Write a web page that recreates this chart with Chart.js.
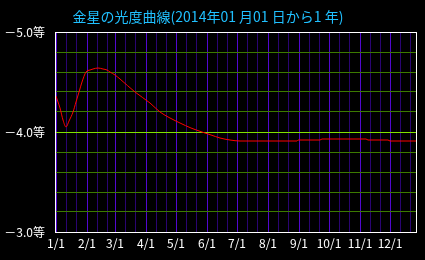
<!DOCTYPE html>
<html>
<head>
<meta charset="utf-8">
<script src="https://cdn.jsdelivr.net/npm/chart.js@4.4.1/dist/chart.umd.min.js"></script>
<style>
html,body{margin:0;padding:0;background:#000;}
#wrap{width:425px;height:260px;}
</style>
</head>
<body>
<div id="wrap"><canvas id="c" width="425" height="260"></canvas></div>
<script>
// ---- data ----
const titleText = '金星の光度曲線(2014年01 月01 日から1 年)';
const dayOfYear = [0, 2, 4, 7, 10, 13, 17, 20, 23, 26, 30, 34, 37, 42, 47, 51, 54, 59, 64, 79, 94, 104, 114, 124, 135, 146, 155, 164, 174, 184, 241, 242, 264, 266, 310, 312, 332, 334, 360];
const magnitude = [-4.36, -4.30, -4.24, -4.12, -4.05, -4.11, -4.20, -4.30, -4.40, -4.50, -4.60, -4.62, -4.63, -4.64, -4.63, -4.62, -4.60, -4.57, -4.53, -4.40, -4.29, -4.20, -4.14, -4.09, -4.04, -4.00, -3.97, -3.94, -3.92, -3.91, -3.91, -3.92, -3.92, -3.93, -3.93, -3.92, -3.92, -3.91, -3.91];
const monthStartDays = [0, 31, 59, 90, 120, 151, 181, 212, 243, 273, 304, 334];
const monthLabels = ['1/1', '2/1', '3/1', '4/1', '5/1', '6/1', '7/1', '8/1', '9/1', '10/1', '11/1', '12/1'];
const yLabelValues = [-5, -4, -3];
const yLabels = ['－5.0等', '－4.0等', '－3.0等'];

const points = dayOfYear.map((d, i) => ({x: d, y: magnitude[i]}));

// grid tick positions (1st, 11th, 21st of each month)
const xGridDays = [];
monthStartDays.forEach(d => { xGridDays.push(d, d + 10, d + 20); });

const bgPlugin = {
  id: 'bg',
  beforeDraw(chart) {
    const ctx = chart.ctx;
    ctx.save();
    ctx.fillStyle = '#000';
    ctx.fillRect(0, 0, chart.width, chart.height);
    ctx.restore();
  },
  afterDatasetsDraw(chart) {
    const a = chart.chartArea;
    const ctx = chart.ctx;
    ctx.save();
    ctx.strokeStyle = '#ffffff';
    ctx.lineWidth = 1;
    ctx.strokeRect(Math.round(a.left) - 0.5, Math.round(a.top) + 0.5, Math.round(a.right - a.left) + 1, Math.round(a.bottom - a.top));
    ctx.restore();
  }
};

new Chart(document.getElementById('c'), {
  type: 'line',
  data: {
    datasets: [{
      data: points,
      borderColor: '#ff0000',
      borderWidth: 1,
      pointRadius: 0,
      cubicInterpolationMode: 'monotone',
      fill: false
    }]
  },
  options: {
    responsive: false,
    animation: false,
    devicePixelRatio: 1,
    layout: {padding: {left: 0, right: 9, top: 0, bottom: 0}},
    plugins: {
      legend: {display: false},
      tooltip: {enabled: false},
      title: {
        display: true,
        text: titleText,
        color: '#20c0ff',
        font: {family: '"Noto Sans CJK JP"', size: 14, weight: 'normal'},
        padding: {top: 8, bottom: 7.2}
      }
    },
    scales: {
      x: {
        type: 'linear',
        min: 0,
        max: 360,
        border: {display: false},
        afterBuildTicks(scale) {
          scale.ticks = xGridDays.filter(d => d <= 360).map(v => ({value: v}));
        },
        afterFit(scale) { scale.height = 28; },
        grid: {
          drawTicks: false,
          color(ctx) {
            const v = ctx.tick && ctx.tick.value;
            return monthStartDays.includes(v) ? '#5208d0' : '#2a0472';
          }
        },
        ticks: {
          autoSkip: false,
          maxRotation: 0,
          color: '#ffffff',
          padding: 4,
          font: {family: '"Noto Sans CJK JP"', size: 12},
          callback(value) {
            const i = monthStartDays.indexOf(value);
            return i >= 0 ? monthLabels[i] : '';
          }
        }
      },
      y: {
        type: 'linear',
        reverse: true,
        min: -5,
        max: -3,
        border: {display: false},
        afterBuildTicks(scale) {
          const t = [];
          for (let i = 0; i <= 20; i++) t.push({value: Math.round((-5 + i * 0.1) * 10) / 10});
          scale.ticks = t;
        },
        afterFit(scale) { scale.width = 56; },
        grid: {
          drawTicks: false,
          color(ctx) {
            const v = ctx.tick && ctx.tick.value;
            return v === -4 ? '#80e000' : '#3c7a00';
          }
        },
        ticks: {
          color: '#ffffff',
          padding: 11,
          font: {family: '"Noto Sans CJK JP"', size: 12},
          callback(value) {
            const i = yLabelValues.indexOf(value);
            return i >= 0 ? yLabels[i] : '';
          }
        }
      }
    }
  },
  plugins: [bgPlugin]
});
</script>
</body>
</html>
